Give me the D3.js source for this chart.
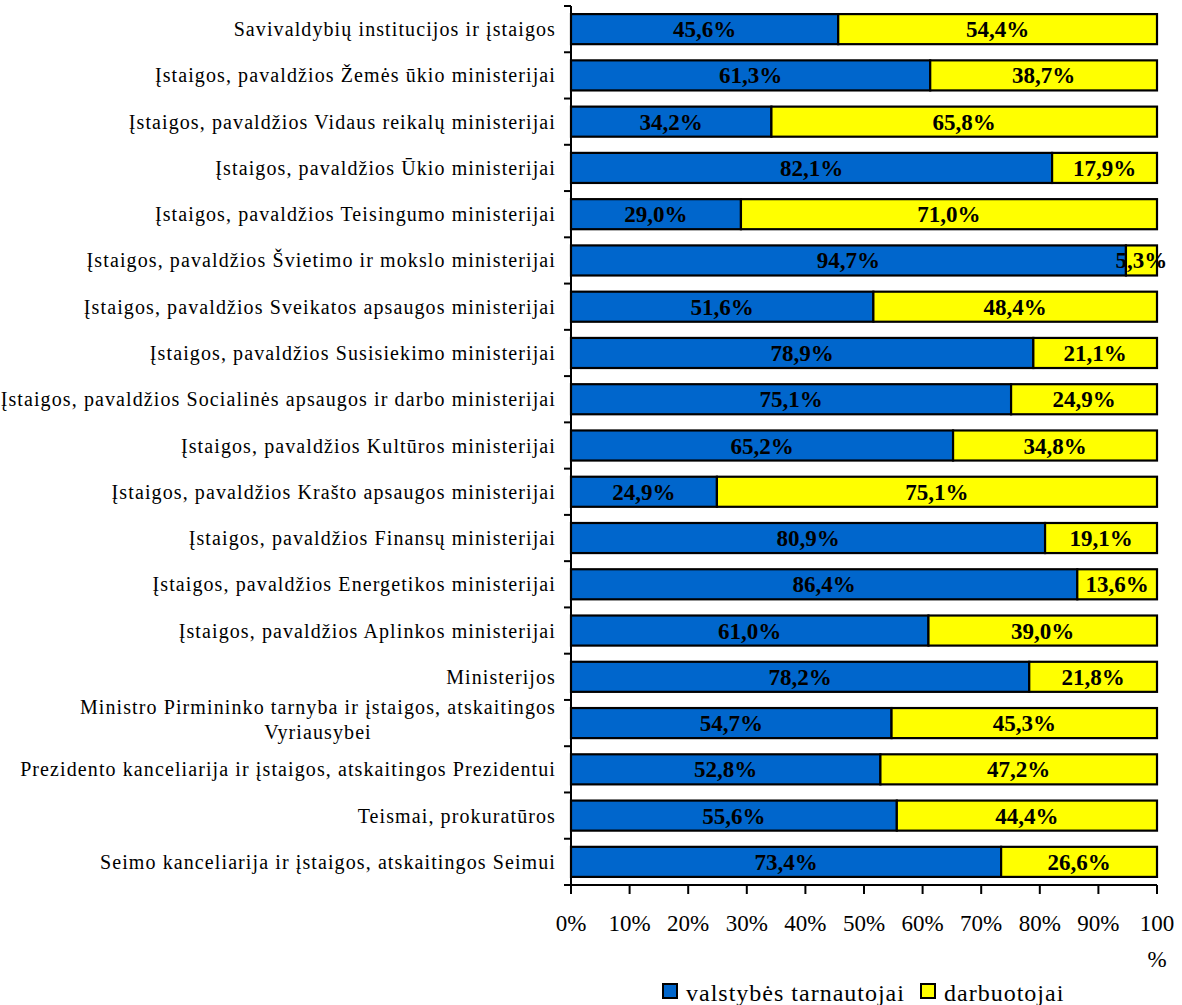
<!DOCTYPE html>
<html><head><meta charset="utf-8">
<script src="https://cdn.jsdelivr.net/npm/d3@7"></script>
<style>body{margin:0;background:#fff}svg{display:block}text{font-family:"Liberation Serif",serif}</style>
</head><body>
<svg id="c" width="1182" height="1005"></svg>
<script>
const categories = [
 "Savivaldybių institucijos ir įstaigos",
 "Įstaigos, pavaldžios Žemės ūkio ministerijai",
 "Įstaigos, pavaldžios Vidaus reikalų ministerijai",
 "Įstaigos, pavaldžios Ūkio ministerijai",
 "Įstaigos, pavaldžios Teisingumo ministerijai",
 "Įstaigos, pavaldžios Švietimo ir mokslo ministerijai",
 "Įstaigos, pavaldžios Sveikatos apsaugos ministerijai",
 "Įstaigos, pavaldžios Susisiekimo ministerijai",
 "Įstaigos, pavaldžios Socialinės apsaugos ir darbo ministerijai",
 "Įstaigos, pavaldžios Kultūros ministerijai",
 "Įstaigos, pavaldžios Krašto apsaugos ministerijai",
 "Įstaigos, pavaldžios Finansų ministerijai",
 "Įstaigos, pavaldžios Energetikos ministerijai",
 "Įstaigos, pavaldžios Aplinkos ministerijai",
 "Ministerijos",
 "Ministro Pirmininko tarnyba ir įstaigos, atskaitingos Vyriausybei",
 "Prezidento kanceliarija ir įstaigos, atskaitingos Prezidentui",
 "Teismai, prokuratūros",
 "Seimo kanceliarija ir įstaigos, atskaitingos Seimui"
];
const valstybesTarnautojai = [45.6,61.3,34.2,82.1,29.0,94.7,51.6,78.9,75.1,65.2,24.9,80.9,86.4,61.0,78.2,54.7,52.8,55.6,73.4];
const darbuotojai = [54.4,38.7,65.8,17.9,71.0,5.3,48.4,21.1,24.9,34.8,75.1,19.1,13.6,39.0,21.8,45.3,47.2,44.4,26.6];
const seriesNames = ["valstybės tarnautojai","darbuotojai"];
const seriesColors = ["#0066CC","#FFFF00"];
const xTicks = [0,10,20,30,40,50,60,70,80,90,100];

const svg = d3.select("#c");
const L = 571, R = 1157, T = 6, B = 885;
const x = d3.scaleLinear().domain([0,100]).range([L,R]);
const y = d3.scaleBand().domain(categories).range([T,B]).paddingInner(0.35).paddingOuter(0.175);

const rows = categories.map((c,i)=>({c, a:valstybesTarnautojai[i], b:darbuotojai[i]}));
const segs = [];
rows.forEach(r=>{
  segs.push({c:r.c, x0:0, x1:r.a, v:r.a, s:0});
  segs.push({c:r.c, x0:r.a, x1:r.a+r.b, v:r.b, s:1});
});
const fmt = v => v.toFixed(1).replace(".",",")+"%";

svg.append("g").selectAll("rect").data(segs).join("rect")
  .attr("x",d=>x(d.x0)).attr("width",d=>x(Math.min(100,d.x1))-x(d.x0))
  .attr("y",d=>y(d.c)).attr("height",y.bandwidth())
  .attr("fill",d=>seriesColors[d.s]).attr("stroke","#000").attr("stroke-width",2.2);

svg.append("g").selectAll("text").data(segs).join("text")
  .attr("x",d=>(x(d.x0)+x(Math.min(100,d.x1)))/2)
  .attr("y",d=>y(d.c)+y.bandwidth()/2)
  .attr("dy","0.35em").attr("text-anchor","middle")
  .style("font-weight","bold").style("font-size","23px")
  .text(d=>fmt(d.v));

// y axis
const ya = svg.append("g");
ya.append("line").attr("x1",L).attr("x2",L).attr("y1",T).attr("y2",B).attr("stroke","#000").attr("stroke-width",2);
const bounds = d3.range(categories.length+1).map(i=>T+(B-T)*i/categories.length);
ya.selectAll(".yt").data(bounds).join("line")
  .attr("x1",L-7).attr("x2",L).attr("y1",d=>d).attr("y2",d=>d).attr("stroke","#000").attr("stroke-width",2);

const labG = ya.append("g");
const labRight = 556;
categories.forEach(c=>{
  const cy = y(c)+y.bandwidth()/2;
  const t = labG.append("text").attr("x",labRight).attr("y",cy).attr("dy","0.35em")
    .attr("text-anchor","end").style("font-size","20px").style("letter-spacing","1.1px").text(c);
  if (t.node().getComputedTextLength() > 560) {
    const words = c.split(" ");
    const last = words.pop();
    t.text(null);
    t.attr("text-anchor","middle");
    const l1 = words.join(" ");
    t.append("tspan").attr("x",0).attr("y",cy-16).attr("dy","0.35em").text(l1);
    t.append("tspan").attr("x",0).attr("y",cy+9).attr("dy","0.35em").text(last);
    const w = t.select("tspan").node().getComputedTextLength();
    t.selectAll("tspan").attr("x",labRight - w/2);
  }
});

// x axis
const xa = svg.append("g");
xa.append("line").attr("x1",L).attr("x2",R).attr("y1",B).attr("y2",B).attr("stroke","#000").attr("stroke-width",2);
xa.selectAll(".xt").data(xTicks).join("line")
  .attr("x1",d=>x(d)).attr("x2",d=>x(d)).attr("y1",B).attr("y2",B+9).attr("stroke","#000").attr("stroke-width",2);
xa.selectAll(".xl").data(xTicks).join("text")
  .attr("x",d=>x(d)).attr("y",923).attr("dy","0.35em").attr("text-anchor","middle")
  .style("font-size","23px")
  .each(function(d){
    const t = d3.select(this);
    if (d===100){
      t.append("tspan").attr("x",x(d)).text("100");
      t.append("tspan").attr("x",x(d)).attr("dy","36px").text("%");
    } else t.text(d+"%");
  });

// legend
const lg = svg.append("g");
const legX = [663, 921];
seriesNames.forEach((n,i)=>{
  lg.append("rect").attr("x",legX[i]).attr("y",984).attr("width",14).attr("height",14)
    .attr("fill",seriesColors[i]).attr("stroke","#000").attr("stroke-width",2);
  lg.append("text").attr("x",legX[i]+23).attr("y",993).attr("dy","0.35em")
    .style("font-size","24px").style("letter-spacing","1px").text(n);
});
</script>
</body></html>
